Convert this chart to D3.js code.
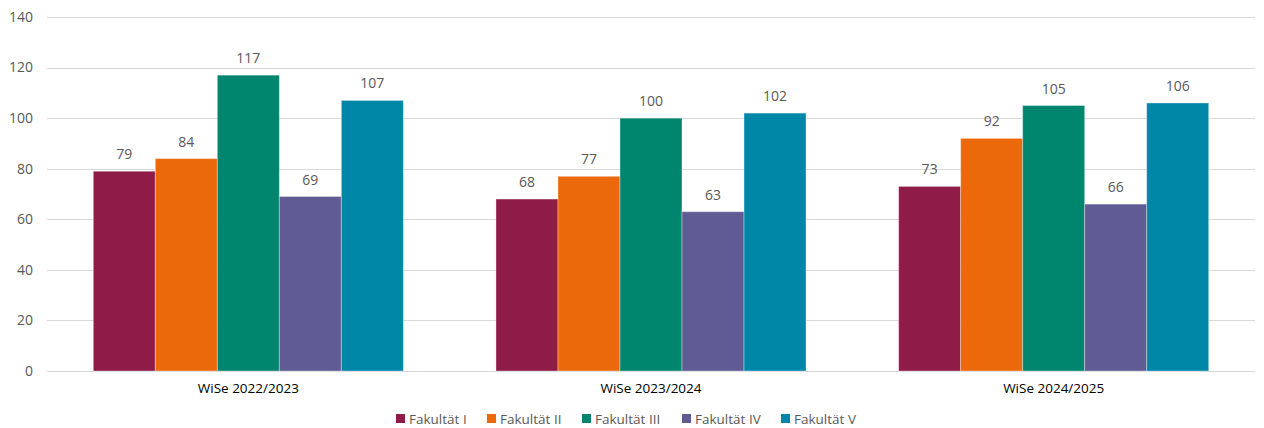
<!DOCTYPE html>
<html>
<head>
<meta charset="utf-8">
<script src="https://cdn.jsdelivr.net/npm/d3@7"></script>
<style>
  body { margin: 0; background: #fff; }
  text { font-family: "Open Sans", "Noto Sans", sans-serif; fill: #595959; }
</style>
</head>
<body>
<div id="chart"></div>
<script>
var semesters = ["WiSe 2022/2023", "WiSe 2023/2024", "WiSe 2024/2025"];
var faculties = ["Fakultät I", "Fakultät II", "Fakultät III", "Fakultät IV", "Fakultät V"];
var colors = ["#8f1b47", "#eb690b", "#00856f", "#605b94", "#0087a8"];
// values per faculty, one per semester
var fak1 = [79, 68, 73];
var fak2 = [84, 77, 92];
var fak3 = [117, 100, 105];
var fak4 = [69, 63, 66];
var fak5 = [107, 102, 106];
var yTicks = [0, 20, 40, 60, 80, 100, 120, 140];

var series = [fak1, fak2, fak3, fak4, fak5];
var width = 1264, height = 428;
var margin = { top: 17, right: 9, bottom: 57, left: 47 };

var svg = d3.select("#chart").append("svg")
    .attr("width", width)
    .attr("height", height);

var x0 = d3.scaleBand()
    .domain(semesters)
    .range([margin.left, width - margin.right])
    .paddingInner(0.23)
    .paddingOuter(0.115);

var x1 = d3.scaleBand()
    .domain(faculties)
    .range([0, x0.bandwidth()]);

var y = d3.scaleLinear()
    .domain([0, 140])
    .range([height - margin.bottom, margin.top]);

// gridlines
svg.append("g")
    .selectAll("line")
    .data(yTicks)
    .enter().append("line")
    .attr("x1", margin.left)
    .attr("x2", width - margin.right)
    .attr("y1", function(d) { return Math.round(y(d)) + 0.5; })
    .attr("y2", function(d) { return Math.round(y(d)) + 0.5; })
    .attr("stroke", "#d9d9d9")
    .attr("stroke-width", 1);

// y tick labels
svg.append("g")
    .selectAll("text")
    .data(yTicks)
    .enter().append("text")
    .attr("x", 33)
    .attr("y", function(d) { return y(d); })
    .attr("dy", "0.35em")
    .attr("text-anchor", "end")
    .style("font-size", "14px")
    .text(function(d) { return d; });

// bars
var groups = svg.append("g")
    .selectAll("g")
    .data(semesters)
    .enter().append("g")
    .attr("transform", function(d) { return "translate(" + x0(d) + ",0)"; });

var cells = groups.selectAll("g")
    .data(function(d, i) {
        return faculties.map(function(f, j) { return { fak: f, idx: j, value: series[j][i] }; });
    })
    .enter().append("g");

cells.append("rect")
    .attr("x", function(d) { return x1(d.fak); })
    .attr("y", function(d) { return y(d.value); })
    .attr("width", x1.bandwidth())
    .attr("height", function(d) { return y(0) - y(d.value); })
    .attr("fill", function(d) { return colors[d.idx]; })
    .attr("stroke", "#ffffff")
    .attr("stroke-opacity", 0.35)
    .attr("stroke-width", 1);

cells.append("text")
    .attr("x", function(d) { return x1(d.fak) + x1.bandwidth() / 2; })
    .attr("y", function(d) { return y(d.value) - 12; })
    .attr("text-anchor", "middle")
    .style("font-size", "14px")
    .text(function(d) { return d.value; });

// category labels
svg.append("g")
    .selectAll("text")
    .data(semesters)
    .enter().append("text")
    .attr("x", function(d) { return x0(d) + x0.bandwidth() / 2; })
    .attr("y", 393)
    .attr("text-anchor", "middle")
    .style("font-size", "13.5px")
    .style("fill", "#000")
    .text(function(d) { return d; });

// legend
var legendX = [396, 487, 582, 682, 781];
var legend = svg.append("g")
    .selectAll("g")
    .data(faculties)
    .enter().append("g")
    .attr("transform", function(d, i) { return "translate(" + legendX[i] + ",414)"; });

legend.append("rect")
    .attr("width", 9)
    .attr("height", 9)
    .attr("fill", function(d, i) { return colors[i]; });

legend.append("text")
    .attr("x", 13)
    .attr("y", 5)
    .attr("dy", "0.35em")
    .style("font-size", "13.5px")
    .text(function(d) { return d; });
</script>
</body>
</html>
